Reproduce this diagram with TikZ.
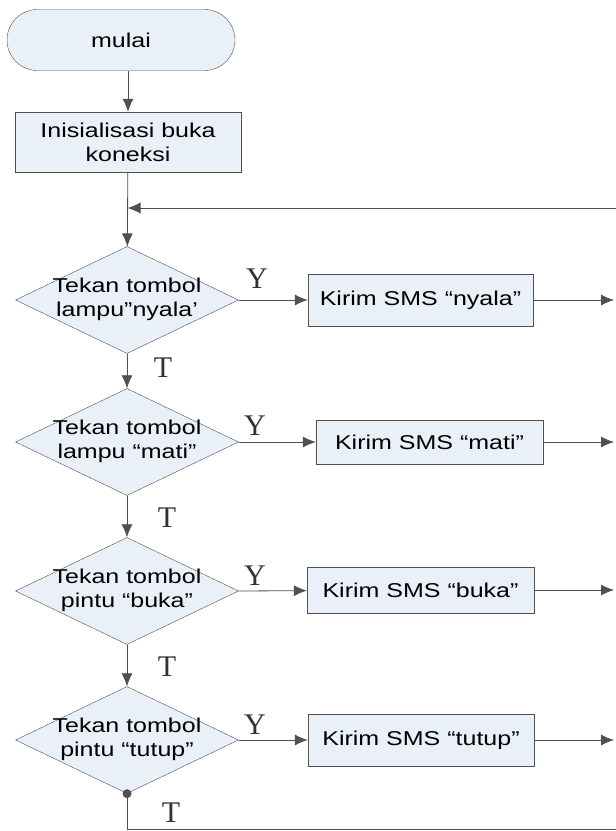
\documentclass[tikz,border=0pt]{standalone}
\usepackage{fontspec}
\setmainfont{Liberation Sans}[FakeStretch=1.25]
\newfontfamily\ytfont{Liberation Serif}
\usetikzlibrary{shapes.geometric,shapes.misc,arrows.meta}
\definecolor{boxfill}{HTML}{EAF0F7}
\definecolor{linegray}{HTML}{505050}
\tikzset{
  font={\fontsize{20pt}{24pt}\selectfont}}

\begin{document}
\begin{tikzpicture}[x=1pt,y=-1pt,
  proc/.style={draw=linegray,fill=boxfill,inner sep=0pt,align=center},
  decision/.style={draw=linegray,fill=boxfill,diamond,minimum width=223pt,minimum height=107pt,inner sep=0pt},
  flow/.style={draw=linegray,line width=0.8pt,-{Latex[length=13pt,width=11pt]}},
  plain/.style={draw=linegray,line width=0.8pt},
  yt/.style={font={\ytfont\fontsize{30pt}{30pt}\selectfont},text=black!80}]
\useasboundingbox (0,0) rectangle (616,831);
\node [proc,rounded rectangle,minimum width=228pt,minimum height=61pt] (start) at (121,40) {mulai};
\node [proc,minimum width=226pt,minimum height=60pt] (init) at (128,142) {Inisialisasi buka\\koneksi};
\node [decision] (d1) at (127,300) {};
\node [align=center] (t1) at (127,299) {Tekan tombol\\lampu”nyala’};
\node [decision] (d2) at (127,442) {};
\node [align=center] (t2) at (127,441) {Tekan tombol\\lampu “mati”};
\node [decision] (d3) at (127,591) {};
\node [align=center] (t3) at (127,590) {Tekan tombol\\pintu “buka”};
\node [decision] (d4) at (127,740) {};
\node [align=center] (t4) at (127,739) {Tekan tombol\\pintu “tutup”};
\node [proc,minimum width=225pt,minimum height=52pt] (s1) at (420.5,300) {Kirim SMS “nyala”};
\node [proc,minimum width=227pt,minimum height=44pt] (s2) at (429.5,442) {Kirim SMS “mati”};
\node [proc,minimum width=227pt,minimum height=46pt] (s3) at (420.5,590) {Kirim SMS “buka”};
\node [proc,minimum width=226pt,minimum height=52pt] (s4) at (421,740) {Kirim SMS “tutup”};
\coordinate (back) at (616,208);
\coordinate (join) at (127.5,208);
\coordinate (e1) at (614,300);
\coordinate (e2) at (614,442);
\coordinate (e3) at (614,590);
\coordinate (e4) at (614,740);
\coordinate (low) at (127,829);
\coordinate (lowR) at (616,829);
\draw [flow] (start.south -| init.north) -- (init);
\draw [flow] (init) -- (d1);
\draw [flow] (back) -- (join);
\draw [flow] (d1) -- (d2);
\draw [flow] (d2) -- (d3);
\draw [flow] (d3) -- (d4);
\draw [flow] (d1.east) -- (s1);
\draw [flow] (d2.east) -- (s2);
\draw [flow] (d3.east) -- (s3);
\draw [flow] (d4.east) -- (s4);
\draw [flow] (s1) -- (e1);
\draw [flow] (s2) -- (e2);
\draw [flow] (s3) -- (e3);
\draw [flow] (s4) -- (e4);
\draw [plain] (d4.south) -- (low) -- (lowR);
\fill [linegray] (d4.south) circle (4.5);
\node [yt] (y1) at (257,279) {Y};
\node [yt] (y2) at (255,426) {Y};
\node [yt] (y3) at (255,576) {Y};
\node [yt] (y4) at (255,725) {Y};
\node [yt] (n1) at (163,368) {T};
\node [yt] (n2) at (167,518) {T};
\node [yt] (n3) at (167,667) {T};
\node [yt] (n4) at (171,813) {T};
\end{tikzpicture}
\end{document}
